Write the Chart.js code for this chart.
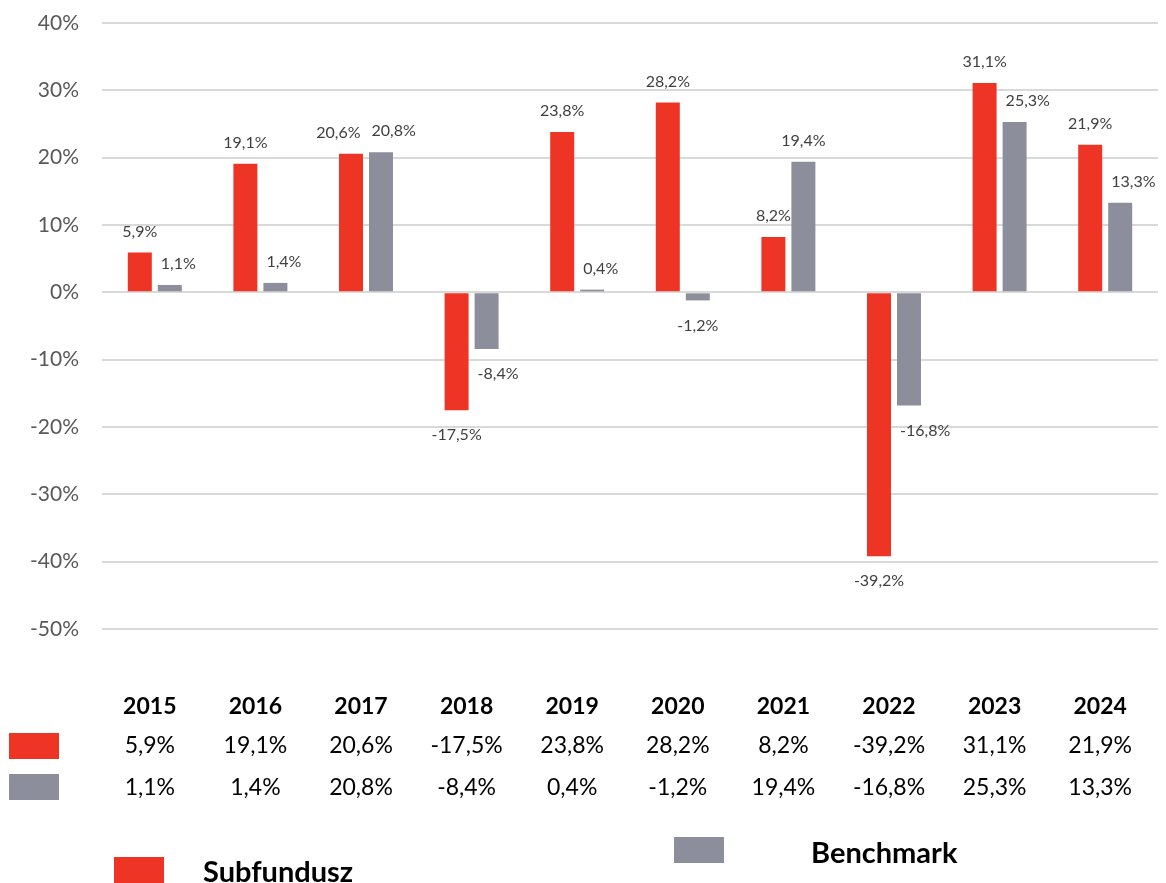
<!DOCTYPE html>
<html>
<head>
<meta charset="utf-8">
<script src="https://cdn.jsdelivr.net/npm/chart.js@4.4.0/dist/chart.umd.min.js"></script>
<style>
  html, body { margin: 0; padding: 0; background: #ffffff; }
  #wrap { width: 1166px; height: 883px; position: relative; }
</style>
</head>
<body>
<div id="wrap"><canvas id="c" width="1166" height="883"></canvas></div>
<script>
const years = ['2015','2016','2017','2018','2019','2020','2021','2022','2023','2024'];
const subfundusz = [5.9, 19.1, 20.6, -17.5, 23.8, 28.2, 8.2, -39.2, 31.1, 21.9];
const benchmark = [1.1, 1.4, 20.8, -8.4, 0.4, -1.2, 19.4, -16.8, 25.3, 13.3];
const seriesNames = ['Subfundusz', 'Benchmark'];
const yTicks = [-50, -40, -30, -20, -10, 0, 10, 20, 30, 40];

const RED = '#ee3424';
const GRAY = '#8c8f9b';
const FONT = 'Lato, "Open Sans", "DejaVu Sans", sans-serif';

function fmt(v) { return v.toFixed(1).replace('.', ',') + '%'; }

const valueLabels = {
  id: 'valueLabels',
  afterDatasetsDraw(chart) {
    const ctx = chart.ctx;
    ctx.save();
    ctx.font = '16px ' + FONT;
    ctx.fillStyle = '#404040';
    ctx.textAlign = 'center';
    ctx.textBaseline = 'middle';
    const m0 = chart.getDatasetMeta(0), m1 = chart.getDatasetMeta(1);
    const d0 = chart.data.datasets[0].data, d1 = chart.data.datasets[1].data;
    for (let i = 0; i < years.length; i++) {
      const elA = m0.data[i], elB = m1.data[i];
      const pts = [[elA, d0[i]], [elB, d1[i]]].map(([el, v]) => {
        const t = fmt(v);
        const w = ctx.measureText(t).width;
        const y = v >= 0 ? el.y - 21 : el.y + 25;
        return { t, w, x: el.x, y };
      });
      const a = pts[0], b = pts[1];
      // keep the second label clear of the first bar
      const top = Math.min(elA.y, elA.base), bot = Math.max(elA.y, elA.base);
      const redRight = elA.x + elA.width / 2;
      if (b.y + 8 > top && b.y - 8 < bot && b.x - b.w / 2 < redRight + 8) {
        b.x = redRight + 9 + b.w / 2;
      }
      // keep the two labels apart
      if (Math.abs(a.y - b.y) < 16) {
        const overlap = (a.x + a.w / 2 + 11) - (b.x - b.w / 2);
        if (overlap > 0) { a.x -= overlap / 2; b.x += overlap / 2; }
      }
      pts.forEach(p => ctx.fillText(p.t, p.x, p.y));
    }
    ctx.restore();
  }
};

const tableAndLegend = {
  id: 'tableAndLegend',
  afterDraw(chart) {
    const ctx = chart.ctx;
    const xs = chart.scales.x;
    const bottom = chart.chartArea.bottom;
    ctx.save();
    ctx.fillStyle = '#000000';
    ctx.textAlign = 'center';
    ctx.textBaseline = 'middle';
    const rows = [subfundusz, benchmark];
    for (let i = 0; i < years.length; i++) {
      const x = xs.getPixelForValue(i) - 5;
      ctx.font = 'bold 23px ' + FONT;
      ctx.fillText(years[i], x, bottom + 78);
      ctx.font = '23px ' + FONT;
      ctx.fillText(fmt(rows[0][i]), x, bottom + 117);
      ctx.fillText(fmt(rows[1][i]), x, bottom + 159);
    }
    // table legend keys
    ctx.fillStyle = RED;
    ctx.fillRect(9, bottom + 104, 50, 26);
    ctx.fillStyle = GRAY;
    ctx.fillRect(9, bottom + 145, 50, 26);
    // bottom legend
    ctx.fillStyle = RED;
    ctx.fillRect(114, bottom + 228, 50, 26);
    ctx.fillStyle = GRAY;
    ctx.fillRect(674, bottom + 208, 50, 26);
    ctx.fillStyle = '#000000';
    ctx.textAlign = 'left';
    ctx.textBaseline = 'alphabetic';
    ctx.font = 'bold 29px ' + FONT;
    ctx.fillText(seriesNames[0], 203, bottom + 253);
    ctx.fillText(seriesNames[1], 811, bottom + 234);
    ctx.restore();
  }
};

new Chart(document.getElementById('c'), {
  type: 'bar',
  data: {
    labels: years,
    datasets: [
      { label: seriesNames[0], data: subfundusz, backgroundColor: RED, barPercentage: 0.8, categoryPercentage: 0.568 },
      { label: seriesNames[1], data: benchmark, backgroundColor: GRAY, barPercentage: 0.8, categoryPercentage: 0.568 }
    ]
  },
  options: {
    responsive: false,
    animation: false,
    layout: { padding: { top: 23, right: 8, bottom: 254, left: 0 } },
    plugins: { legend: { display: false }, tooltip: { enabled: false } },
    scales: {
      x: { display: false },
      y: {
        min: -50, max: 40,
        afterBuildTicks(scale) { scale.ticks = yTicks.map(v => ({ value: v })); },
        afterFit(scale) { scale.width = 102; scale.paddingTop = 0; scale.paddingBottom = 0; },
        border: { display: false },
        grid: { color: '#d9d9d9', lineWidth: 2, drawTicks: false },
        ticks: {
          padding: 23,
          color: '#595959',
          font: { family: FONT, size: 21 },
          callback: v => v + '%'
        }
      }
    }
  },
  plugins: [valueLabels, tableAndLegend]
});
</script>
</body>
</html>
